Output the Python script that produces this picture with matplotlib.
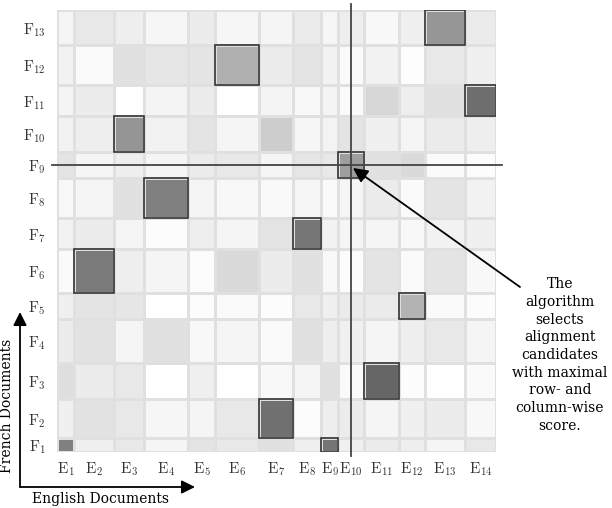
import numpy as np
import matplotlib
matplotlib.use("Agg")
import matplotlib.pyplot as plt
from matplotlib.patches import Rectangle

plt.rcParams["mathtext.fontset"] = "cm"

# document sizes (English columns E1..E14, French rows F1..F13)
e_sizes = [17, 40, 30, 44, 27, 44, 34, 28, 17, 26, 35, 26, 40, 31]
f_sizes = [14, 39, 36, 44, 26, 44, 31, 40, 26, 36, 31, 40, 35]

e_labels = [r"$\mathrm{E}_{%d}$" % i for i in range(1, 15)]
f_labels = [r"$\mathrm{F}_{%d}$" % i for i in range(1, 14)]

# grey level of each cell (0 = black, 255 = white), rows listed F13 -> F1
scores = [
    [245, 232, 238, 246, 236, 246, 245, 235, 246, 238, 248, 240, 150, 235],  # F13
    [242, 250, 225, 230, 228, 176, 235, 228, 242, 250, 242, 253, 232, 240],  # F12
    [244, 236, 255, 244, 236, 255, 244, 248, 244, 250, 215, 238, 225, 110],  # F11
    [242, 238, 149, 242, 228, 245, 205, 247, 243, 228, 240, 245, 235, 238],  # F10
    [228, 245, 238, 245, 236, 232, 245, 230, 232, 158, 225, 218, 250, 252],  # F9
    [248, 245, 225, 128, 245, 248, 249, 246, 250, 245, 235, 250, 228, 242],  # F8
    [242, 236, 245, 252, 238, 245, 228, 119, 242, 245, 245, 248, 242, 240],  # F7
    [250, 122, 238, 245, 252, 218, 236, 225, 248, 252, 228, 250, 228, 248],  # F6
    [240, 228, 230, 255, 252, 250, 252, 232, 240, 235, 235, 179, 250, 252],  # F5
    [236, 226, 245, 225, 248, 245, 250, 225, 238, 240, 245, 238, 232, 245],  # F4
    [222, 236, 232, 255, 240, 255, 248, 245, 225, 250, 102, 252, 255, 250],  # F3
    [240, 226, 232, 246, 245, 232, 112, 252, 238, 236, 245, 240, 236, 248],  # F2
    [128, 240, 232, 245, 228, 232, 225, 240, 117, 240, 235, 238, 245, 232],  # F1
]

# selected alignment candidates (F index, E index)
selected = [(13, 13), (12, 6), (11, 14), (10, 3), (9, 10), (8, 4), (7, 8),
            (6, 2), (5, 12), (3, 11), (2, 7), (1, 9)]
highlight = (9, 10)

note = ("The\nalgorithm\nselects\nalignment\ncandidates\nwith maximal\n"
        "row- and\ncolumn-wise\nscore.")


def main():
    fig = plt.figure(figsize=(6.12, 5.08), dpi=100)
    ax = fig.add_axes([57 / 612, 56 / 508, 439 / 612, 442 / 508])

    xe = np.concatenate([[0], np.cumsum(e_sizes)])
    ye = np.concatenate([[0], np.cumsum(f_sizes)])
    grid = np.array(scores[::-1], dtype=float)

    ax.pcolormesh(xe, ye, grid, cmap="gray", vmin=0, vmax=255,
                  edgecolors="#e0e0e0", linewidth=0.9)

    for fi, ei in selected:
        ax.add_patch(Rectangle((xe[ei - 1], ye[fi - 1]), e_sizes[ei - 1], f_sizes[fi - 1],
                               fill=False, edgecolor="#333333", lw=1.2, zorder=3))

    # crosshair through the chosen cell
    cx = (xe[highlight[1] - 1] + xe[highlight[1]]) / 2
    cy = (ye[highlight[0] - 1] + ye[highlight[0]]) / 2
    ax.plot([cx, cx], [-4, ye[-1] + 6], color="#444444", lw=1.3, clip_on=False, zorder=4)
    ax.plot([-5, xe[-1] + 6], [cy, cy], color="#444444", lw=1.3, clip_on=False, zorder=4)

    ax.set_xlim(0, xe[-1])
    ax.set_ylim(0, ye[-1])
    ax.set_xticks((xe[:-1] + xe[1:]) / 2)
    ax.set_xticklabels(e_labels, fontsize=11, color="#333333")
    ax.set_yticks((ye[:-1] + ye[1:]) / 2)
    ax.set_yticklabels(f_labels, fontsize=11, color="#333333")
    ax.tick_params(length=0)
    ax.tick_params(axis="x", pad=6)
    ax.tick_params(axis="y", pad=8)
    for s in ax.spines.values():
        s.set_visible(False)

    # annotation
    ax.annotate("", xy=(353, 508 - 168), xycoords="figure pixels",
                xytext=(520, 508 - 287), textcoords="figure pixels",
                arrowprops=dict(arrowstyle="-|>", color="black", lw=1.3,
                                mutation_scale=22, shrinkA=0, shrinkB=0))
    fig.text(560 / 612, 1 - 355 / 508, note, ha="center", va="center",
             family="DejaVu Serif", fontsize=10, linespacing=1.33)

    # axis arrows
    ax.annotate("", xy=(20, 508 - 312), xycoords="figure pixels",
                xytext=(20, 508 - 487), textcoords="figure pixels",
                arrowprops=dict(arrowstyle="-|>", color="black", lw=1.3,
                                mutation_scale=20, shrinkA=0, shrinkB=0))
    ax.annotate("", xy=(195, 508 - 487), xycoords="figure pixels",
                xytext=(20, 508 - 487), textcoords="figure pixels",
                arrowprops=dict(arrowstyle="-|>", color="black", lw=1.3,
                                mutation_scale=20, shrinkA=0, shrinkB=0))
    fig.text(7 / 612, 1 - 406 / 508, "French Documents", rotation=90,
             ha="center", va="center", family="DejaVu Serif", fontsize=10)
    fig.text(100 / 612, 1 - 499 / 508, "English Documents",
             ha="center", va="center", family="DejaVu Serif", fontsize=10)

    fig.savefig("out.png", dpi=100)
    plt.close(fig)


if __name__ == "__main__":
    main()
